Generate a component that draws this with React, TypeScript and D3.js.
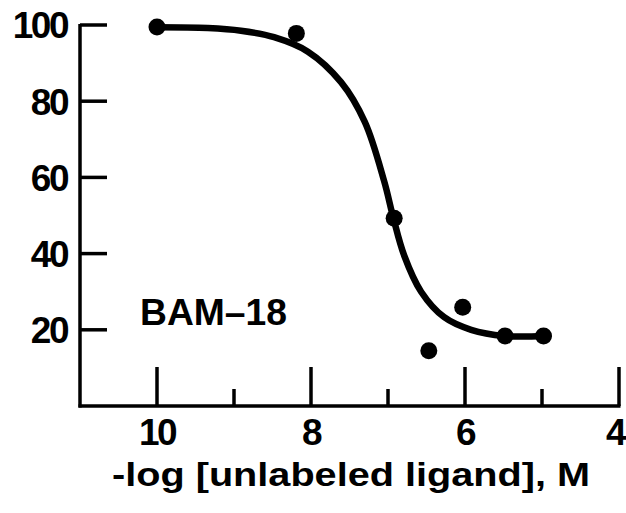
import React from "react";
import * as d3 from "d3";

const xMajorTicks = [10, 8, 6, 4];
const xMinorTicks = [9, 7, 5];
const yTicks = [20, 40, 60, 80, 100];

// observed data points: -log[ligand], % bound
const pointX = [10, 8.19, 6.92, 6.47, 6.03, 5.48, 4.98];
const pointY = [99.5, 97.8, 49.3, 14.5, 25.9, 18.4, 18.4];

// fitted curve
const curveX = [10, 9.34, 8.91, 8.48, 8.04, 7.61, 7.3, 7.05, 6.93, 6.79, 6.57, 6.27, 5.92, 5.49, 4.97];
const curveY = [99.4, 99.2, 98.5, 96.8, 93.0, 85.0, 74.5, 59.0, 49.3, 39.5, 30.0, 23.3, 20.0, 18.4, 18.4];

const label = "BAM\u201318";
const xTitle = "-log [unlabeled ligand], M";

const W = 626;
const H = 513;

export default function App() {
  const x = d3.scaleLinear().domain([11, 4]).range([80, 619]);
  const y = d3.scaleLinear().domain([0, 100]).range([406, 25]);
  const line = d3
    .line<[number, number]>()
    .x((d) => x(d[0]))
    .y((d) => y(d[1]))
    .curve(d3.curveCatmullRom.alpha(0.5));
  const curveData: [number, number][] = curveX.map((v, i) => [v, curveY[i]]);
  const font = "'Liberation Sans', Arial, Helvetica, sans-serif";
  const x0 = x(11);
  const y0 = y(0);
  return (
    <svg
      width={W}
      height={H}
      style={{ position: "absolute", left: 0, top: 0, background: "#fff" }}
      fontFamily={font}
      fontWeight="bold"
    >
      <rect width={W} height={H} fill="#fff" />
      {/* axes */}
      <line x1={x0} x2={x0} y1={y(100) - 1} y2={y0 + 1.5} stroke="#000" strokeWidth={3.5} />
      <line x1={x0 - 1.5} x2={x(4) + 1.5} y1={y0} y2={y0} stroke="#000" strokeWidth={3.5} />
      {yTicks.map((t) => (
        <g key={"y" + t}>
          <line x1={x0} x2={x0 + 27} y1={y(t)} y2={y(t)} stroke="#000" strokeWidth={3.5} />
          <text x={67} y={y(t)} dy="0.36em" textAnchor="end" fontSize={37} fill="#000" letterSpacing={-2.5}>
            {t}
          </text>
        </g>
      ))}
      {xMajorTicks.map((t) => (
        <g key={"x" + t}>
          <line x1={x(t)} x2={x(t)} y1={y0} y2={y0 - 39} stroke="#000" strokeWidth={3.5} />
          <text
            x={Math.min(x(t), 615)}
            y={445}
            textAnchor="middle"
            fontSize={37}
            fill="#000"
            letterSpacing={-2.5}
          >
            {t}
          </text>
        </g>
      ))}
      {xMinorTicks.map((t) => (
        <line key={"m" + t} x1={x(t)} x2={x(t)} y1={y0} y2={y0 - 17} stroke="#000" strokeWidth={3.5} />
      ))}
      <text x={112} y={486} fontSize={34} fill="#000" textLength={478} lengthAdjust="spacingAndGlyphs">
        {xTitle}
      </text>
      <text x={140} y={325} fontSize={37} fill="#000" textLength={147} lengthAdjust="spacingAndGlyphs">
        {label}
      </text>
      {/* curve */}
      <path d={line(curveData) || ""} fill="none" stroke="#000" strokeWidth={6.5} strokeLinecap="round" />
      {pointX.map((v, i) => (
        <circle key={"p" + i} cx={x(v)} cy={y(pointY[i])} r={8.5} fill="#000" />
      ))}
    </svg>
  );
}
